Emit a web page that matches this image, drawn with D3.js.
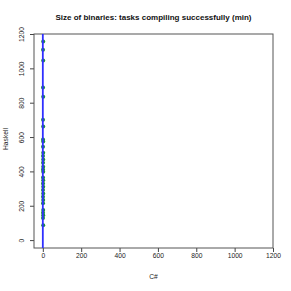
<!DOCTYPE html>
<html>
<head>
<meta charset="utf-8">
<script src="https://cdn.jsdelivr.net/npm/d3@7"></script>
<style>
body{margin:0;background:#fff;}
text{font-family:"Liberation Sans",Arial,sans-serif;}
</style>
</head>
<body>
<svg id="chart" width="291" height="291"></svg>
<script>
// Haskell binary sizes, C# values all sit at ~0
var haskell = [1157,1108,1046,889,835,701,662,586,574,543,509,489,470,450,427,411,398,365,349,330,310,291,272,252,233,214,175,159,144,128,86];
var csharp = [2,1,2,1,2,1,2,1,2,1,2,1,2,1,2,1,2,1,2,1,2,1,2,1,2,1,2,1,2,1,2];
var xTicks = [0,200,400,600,800,1000,1200];
var yTicks = [0,200,400,600,800,1000,1200];

function drawChart(){
	var svg = d3.select("#chart");
	var pLeft = 34, pRight = 273, pTop = 34, pBottom = 248;

	var x = d3.scaleLinear().domain([-46,1200]).range([pLeft,pRight]);
	var y = d3.scaleLinear().domain([-46,1200]).range([pBottom,pTop]);

	svg.append("text")
		.attr("x",153.5)
		.attr("y",20)
		.attr("text-anchor","middle")
		.attr("font-size","8px")
		.attr("font-weight","bold")
		.attr("fill","#111")
		.text("Size of binaries: tasks compiling successfully (min)");

	var xAxis = d3.axisBottom(x).tickValues(xTicks).tickFormat(d3.format("d")).tickSize(4).tickSizeOuter(0);
	var gx = svg.append("g")
		.attr("transform","translate(0,"+pBottom+")")
		.call(xAxis);
	gx.select(".domain").remove();
	gx.selectAll("line").attr("stroke","#444");
	gx.selectAll("text")
		.attr("font-size","6.7px")
		.attr("fill","#222")
		.attr("dy","0.6em")
		.attr("y",6)
		.style("font-family","Liberation Sans, Arial, sans-serif");

	var yAxis = d3.axisLeft(y).tickValues(yTicks).tickFormat(d3.format("d")).tickSize(4).tickSizeOuter(0);
	var gy = svg.append("g")
		.attr("transform","translate("+pLeft+",0)")
		.call(yAxis);
	gy.select(".domain").remove();
	gy.selectAll("line").attr("stroke","#444");
	gy.selectAll("text")
		.attr("font-size","6.7px")
		.attr("fill","#222")
		.attr("x",0).attr("dy",0)
		.attr("text-anchor","middle")
		.attr("transform","translate(-10,0) rotate(-90)")
		.style("font-family","Liberation Sans, Arial, sans-serif");

	svg.append("rect")
		.attr("x",pLeft).attr("y",pTop)
		.attr("width",pRight-pLeft).attr("height",pBottom-pTop)
		.attr("fill","none")
		.attr("stroke","#555")
		.attr("stroke-width",1);

	svg.selectAll("circle")
		.data(haskell)
		.enter()
		.append("circle")
		.attr("cx",function(d,i){return x(csharp[i]);})
		.attr("cy",function(d){return y(d);})
		.attr("r",2)
		.attr("fill","#1f8f3a");

	svg.append("line")
		.attr("x1",x(0)).attr("x2",x(0))
		.attr("y1",pTop).attr("y2",pBottom)
		.attr("stroke","#3030ff")
		.attr("stroke-width",1.8);

	svg.append("text")
		.attr("x",153.5)
		.attr("y",279)
		.attr("text-anchor","middle")
		.attr("font-size","6.7px")
		.attr("fill","#222")
		.text("C#");

	svg.append("text")
		.attr("transform","translate(8,139) rotate(-90)")
		.attr("text-anchor","middle")
		.attr("font-size","6.7px")
		.attr("fill","#222")
		.text("Haskell");
}

drawChart();
</script>
</body>
</html>
